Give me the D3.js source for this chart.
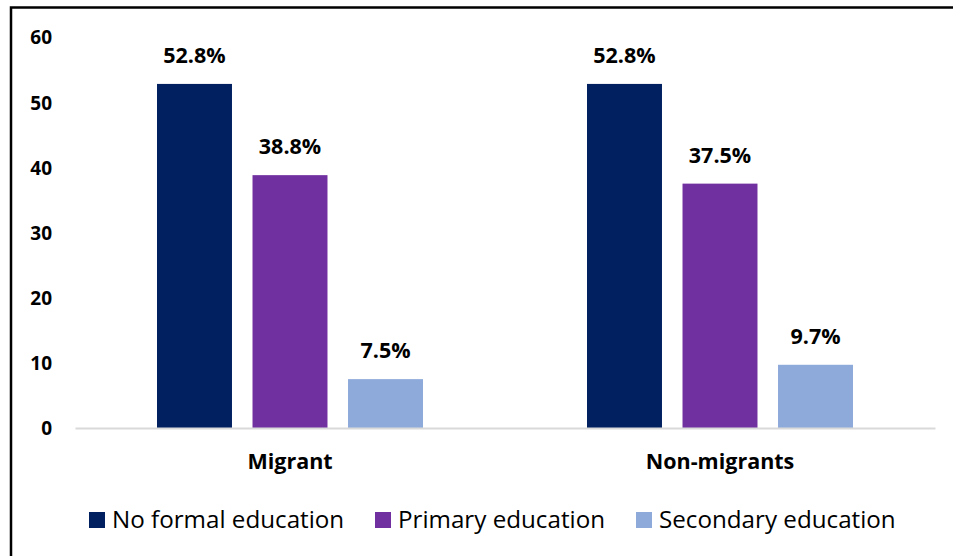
<!DOCTYPE html>
<html>
<head>
<meta charset="utf-8">
<script src="https://cdn.jsdelivr.net/npm/d3@7"></script>
<style>
  html, body { margin: 0; padding: 0; background: #fff; }
  svg { display: block; }
  text { font-family: "Open Sans", Lato, sans-serif; fill: #000; }
</style>
</head>
<body>
<svg id="chart" width="953" height="556"></svg>
<script>
// Education level by migration status (%)
const groups = ["Migrant", "Non-migrants"];
const series = ["No formal education", "Primary education", "Secondary education"];
const colors = ["#002060", "#7030a0", "#8eaadb"];
const migrantValues = [52.8, 38.8, 7.5];
const nonMigrantValues = [52.8, 37.5, 9.7];
const yTicks = [0, 10, 20, 30, 40, 50, 60];

const valuesByGroup = [migrantValues, nonMigrantValues];
const FONT = "'Open Sans', Lato, sans-serif";

const svg = d3.select("#chart");
const W = 953, H = 556;

// outer frame (top and left edges visible)
svg.append("rect")
  .attr("x", 11).attr("y", 7.5)
  .attr("width", W + 10).attr("height", H + 10)
  .attr("fill", "none").attr("stroke", "#000").attr("stroke-width", 2.5);

const plot = { left: 75, right: 935, top: 37, bottom: 428 };

const y = d3.scaleLinear().domain([0, 60]).range([plot.bottom, plot.top]);
const x0 = d3.scaleBand().domain(groups).range([plot.left, plot.right]).padding(0);
const inner = 266;
const x1 = d3.scaleBand().domain(series)
  .range([(x0.bandwidth() - inner) / 2, (x0.bandwidth() + inner) / 2])
  .paddingInner(0.215).paddingOuter(0);

// y axis labels
const yAxis = d3.axisLeft(y).tickValues(yTicks).tickSize(0).tickPadding(0);
const yG = svg.append("g").attr("transform", "translate(52,0)").call(yAxis);
yG.select(".domain").remove();
yG.selectAll("text")
  .attr("font-size", 19).attr("font-weight", "bold")
  .attr("font-family", FONT).attr("fill", "#000")
  .attr("dy", "0.36em");

// bars
const gGroups = svg.append("g").selectAll("g")
  .data(groups.map((g, i) => ({ g, vals: valuesByGroup[i] })))
  .join("g")
  .attr("transform", d => `translate(${x0(d.g)},0)`);

gGroups.selectAll("rect")
  .data(d => d.vals.map((v, i) => ({ s: series[i], v, c: colors[i] })))
  .join("rect")
  .attr("x", d => x1(d.s))
  .attr("width", x1.bandwidth())
  .attr("y", d => y(d.v))
  .attr("height", d => y(0) - y(d.v))
  .attr("fill", d => d.c);

gGroups.selectAll("text.val")
  .data(d => d.vals.map((v, i) => ({ s: series[i], v })))
  .join("text")
  .attr("class", "val")
  .attr("x", d => x1(d.s) + x1.bandwidth() / 2)
  .attr("y", d => y(d.v) - 21)
  .attr("text-anchor", "middle")
  .attr("font-size", 21.5).attr("font-weight", "bold")
  .text(d => d.v.toFixed(1) + "%");

// baseline axis
const xAxis = d3.axisBottom(x0).tickSize(0).tickPadding(0);
const xG = svg.append("g").attr("transform", `translate(0,${plot.bottom})`).call(xAxis);
xG.select(".domain").attr("stroke", "#d9d9d9").attr("stroke-width", 2);
xG.selectAll("text")
  .attr("font-size", 21.5).attr("font-weight", "bold")
  .attr("font-family", FONT).attr("fill", "#000")
  .attr("dy", 0).attr("y", 41);

// legend
const legendX = [89, 375, 636];
const lg = svg.append("g").selectAll("g")
  .data(series.map((s, i) => ({ s, c: colors[i], x: legendX[i] })))
  .join("g")
  .attr("transform", d => `translate(${d.x},512)`);
lg.append("rect").attr("width", 16).attr("height", 16).attr("fill", d => d.c);
lg.append("text")
  .attr("x", 23).attr("y", 15.5)
  .attr("font-size", 24.2)
  .text(d => d.s);
</script>
</body>
</html>
